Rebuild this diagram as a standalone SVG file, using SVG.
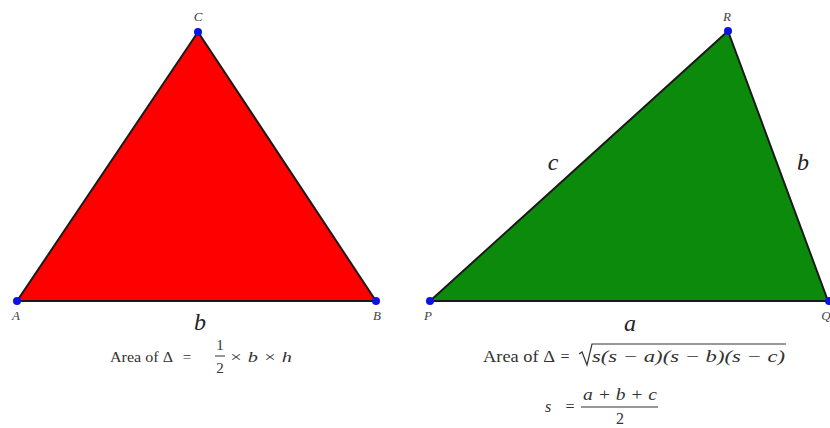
<svg xmlns="http://www.w3.org/2000/svg" width="830" height="428" viewBox="0 0 830 428">
<style>
.tri{stroke:#1a1a1a;stroke-width:2;stroke-linejoin:round}
.pt{fill:#0a14e0}
.lbl{font-family:"Liberation Serif",serif;font-style:italic;font-size:13px;fill:#444;text-anchor:middle}
.side{font-family:"Liberation Serif",serif;font-style:italic;font-size:24px;fill:#222;text-anchor:middle}
.f{font-family:"Liberation Serif",serif;font-size:15px;fill:#333}
.fi{font-family:"Liberation Serif",serif;font-style:italic;font-size:15px;fill:#333}
.g{font-size:16px}
</style>
<rect width="830" height="428" fill="#fff"/>
<g id="triangle-ABC">
<polygon class="tri" points="17,301 376,301 198,32" fill="#ff0000"/>
<circle class="pt" cx="17" cy="301" r="4"/>
<circle class="pt" cx="376" cy="301" r="4"/>
<circle class="pt" cx="198" cy="32" r="4"/>
<text class="lbl" x="198" y="21">C</text>
<text class="lbl" x="16" y="320">A</text>
<text class="lbl" x="377" y="320">B</text>
<text class="side" x="200" y="330">b</text>
</g>
<g id="formula-left">
<text class="f" x="110" y="362" textLength="63" lengthAdjust="spacingAndGlyphs">Area of Δ</text>
<text class="f" x="187" y="362" text-anchor="middle">=</text>
<text class="f" x="220" y="350" text-anchor="middle">1</text>
<line x1="215" y1="356" x2="225" y2="356" stroke="#333" stroke-width="1"/>
<text class="f" x="220" y="373" text-anchor="middle">2</text>
<text class="fi" x="229" y="362" textLength="63" lengthAdjust="spacingAndGlyphs">× b × h</text>
</g>
<g id="triangle-PQR">
<polygon class="tri" points="430,301 828,301 728,31" fill="#0b8a0b"/>
<circle class="pt" cx="430" cy="301" r="4"/>
<circle class="pt" cx="829" cy="301" r="4"/>
<circle class="pt" cx="728" cy="31" r="4"/>
<text class="lbl" x="727" y="21">R</text>
<text class="lbl" x="428" y="320">P</text>
<text class="lbl" x="826" y="320">Q</text>
<text class="side" x="553" y="170">c</text>
<text class="side" x="803" y="170">b</text>
<text class="side" x="630" y="331">a</text>
</g>
<g id="formula-right">
<text class="f g" x="483" y="362" textLength="72" lengthAdjust="spacingAndGlyphs">Area of Δ</text>
<text class="f g" x="565" y="362" text-anchor="middle">=</text>
<path d="M579,354 L582,352 L587,365 L592,344 L786,344" fill="none" stroke="#333" stroke-width="1.2"/>
<text class="fi g" x="592" y="362" textLength="193" lengthAdjust="spacingAndGlyphs">s(s − a)(s − b)(s − c)</text>
<text class="fi g" x="545" y="412">s</text>
<text class="f g" x="570" y="412" text-anchor="middle">=</text>
<text class="fi g" x="620" y="400" text-anchor="middle" textLength="74" lengthAdjust="spacingAndGlyphs">a + b + c</text>
<line x1="581" y1="407" x2="658" y2="407" stroke="#333" stroke-width="1.2"/>
<text class="f g" x="620" y="424" text-anchor="middle">2</text>
</g>
</svg>
